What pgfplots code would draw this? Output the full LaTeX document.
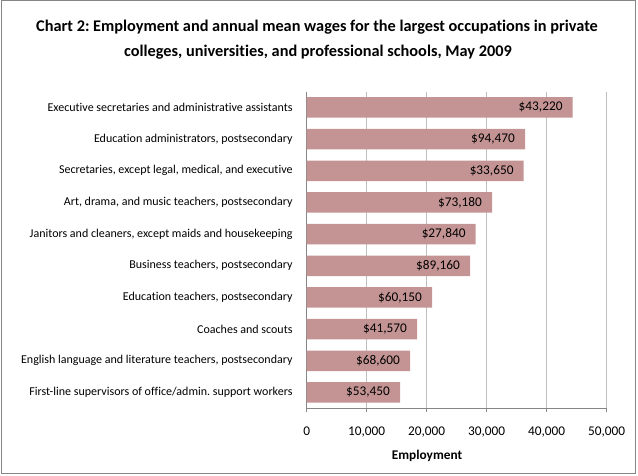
\documentclass[border=0pt]{standalone}
\usepackage{pgfplots}
\pgfplotsset{compat=1.18}
\usepackage{pgfplotstable}
\usepackage{fontspec}
\setmainfont{Carlito}[Ligatures=NoCommon]
\frenchspacing
\definecolor{barc}{HTML}{C49494}
\definecolor{gridc}{HTML}{BFBFBF}
\definecolor{axc}{HTML}{868686}
\pgfplotstableread{
idx emp wage
0 44330 43220
1 36390 94470
2 36170 33650
3 30890 73180
4 28170 27840
5 27220 89160
6 20890 60150
7 18390 41570
8 17220 68600
9 15560 53450
}\datatab
\begin{document}
\begin{tikzpicture}
\useasboundingbox (0pt,0pt) rectangle (638pt,476pt);
\draw[axc, line width=1pt] (1pt,2pt) rectangle (635.5pt,475pt);
\node[font=\fontsize{16.3}{20}\selectfont\bfseries] at (317pt,449pt) {Chart 2: Employment and annual mean wages for the largest occupations in private};
\node[font=\fontsize{16.3}{20}\selectfont\bfseries] at (318pt,424pt) {colleges, universities, and professional schools, May 2009};
\node[font=\fontsize{13.3}{16}\selectfont\bfseries] at (427pt,20pt) {Employment};
\begin{axis}[
  at={(306.7pt,67.7pt)}, anchor=south west,
  scale only axis, width=300pt, height=316.7pt,
  xmin=0, xmax=50000, ymin=-0.5, ymax=9.5,
  y dir=reverse,
  xbar, bar width=20.5pt,
  axis x line*=bottom, axis y line*=left,
  axis line style={axc, line width=0.9pt},
  xtick={0,10000,20000,30000,40000,50000},
  xmajorgrids, grid style={gridc, line width=0.9pt},
  major tick style={axc, line width=0.9pt},
  tick align=outside, major tick length=4pt,
  scaled x ticks=false,
  /pgf/number format/assume math mode=true,
  /pgf/number format/fixed,
  /pgf/number format/1000 sep={,},
  xticklabel style={font=\fontsize{13.3}{16}\selectfont, inner sep=0pt, yshift=-14pt},
  ytick={0,...,9},
  yticklabels={Executive secretaries and administrative assistants,
    {Education administrators, postsecondary},
    {Secretaries, except legal, medical, and executive},
    {Art, drama, and music teachers, postsecondary},
    {Janitors and cleaners, except maids and housekeeping},
    {Business teachers, postsecondary},
    {Education teachers, postsecondary},
    Coaches and scouts,
    {English language and literature teachers, postsecondary},
    First-line supervisors of office/admin. support workers},
  ytick style={draw=none},
  yticklabel style={font=\fontsize{12}{14}\selectfont, inner sep=0pt, xshift=-10pt},
  extra y ticks={-0.5,0.5,...,9.5},
  extra y tick labels={},
  extra y tick style={tick style={axc, line width=0.9pt}, major tick length=4pt, grid=none},
  point meta=explicit,
  nodes near coords={\$\pgfmathprintnumber[fixed, precision=0, 1000 sep={,}]{\pgfplotspointmeta}},
  every node near coord/.append style={font=\fontsize{13.3}{16}\selectfont, anchor=east, inner sep=0pt, xshift=-10pt},
  clip=false,
]
\addplot[fill=barc, draw=none] table[x=emp, y=idx, meta=wage] {\datatab};
\end{axis}
\end{tikzpicture}
\end{document}
